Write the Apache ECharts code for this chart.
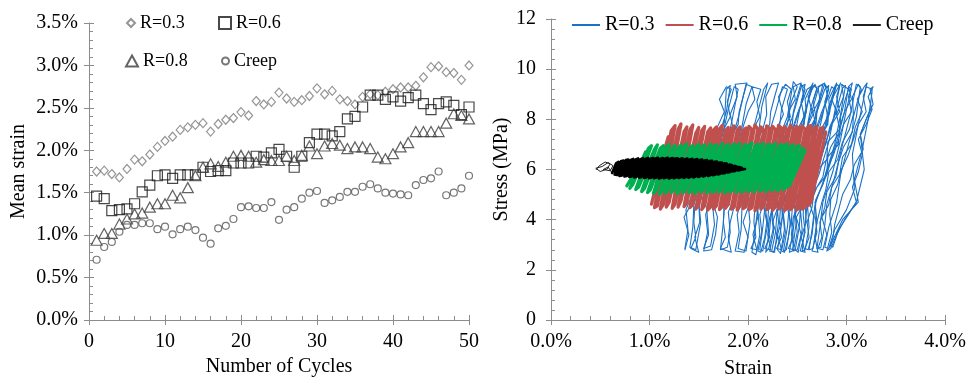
<!DOCTYPE html>
<html><head><meta charset="utf-8">
<script src="https://cdn.jsdelivr.net/npm/echarts@6/dist/echarts.min.js"></script>
<style>html,body{margin:0;padding:0;background:#fff}#c{width:967px;height:379px}</style>
</head><body><div id="c"></div>
<script>
// ---------- Left chart: mean strain (%) vs number of cycles ----------
const cycles = [1,2,3,4,5,6,7,8,9,10,11,12,13,14,15,16,17,18,19,20,21,22,23,24,25,26,27,28,29,30,31,32,33,34,35,36,37,38,39,40,41,42,43,44,45,46,47,48,49,50];
const meanR03 = [1.75,1.76,1.72,1.68,1.78,1.89,1.87,1.95,2.04,2.11,2.16,2.24,2.27,2.30,2.32,2.22,2.31,2.36,2.38,2.45,2.41,2.58,2.54,2.57,2.68,2.61,2.57,2.59,2.64,2.73,2.66,2.70,2.60,2.58,2.54,2.63,2.66,2.65,2.69,2.72,2.74,2.74,2.76,2.86,2.98,2.99,2.92,2.91,2.83,3.00];
const meanR06 = [1.46,1.43,1.29,1.30,1.31,1.37,1.51,1.59,1.70,1.71,1.67,1.71,1.71,1.71,1.80,1.75,1.76,1.76,1.85,1.85,1.85,1.93,1.92,1.97,2.01,1.93,1.80,1.93,2.09,2.19,2.19,2.17,2.22,2.37,2.40,2.51,2.65,2.65,2.60,2.63,2.58,2.62,2.65,2.55,2.48,2.55,2.57,2.53,2.42,2.51];
const meanR08 = [0.94,1.02,1.02,1.13,1.19,1.25,1.26,1.33,1.37,1.37,1.47,1.44,1.56,1.70,1.80,1.84,1.81,1.86,1.93,1.94,1.93,1.86,1.89,1.88,1.88,1.93,1.88,1.94,2.05,1.96,2.05,2.08,2.06,2.02,2.04,2.04,2.02,1.92,1.90,1.96,2.04,2.09,2.22,2.22,2.22,2.22,2.32,2.43,2.41,2.37];
const meanCreep = [0.71,0.86,0.92,1.04,1.12,1.12,1.14,1.14,1.07,1.10,1.01,1.07,1.10,1.06,0.97,0.90,1.08,1.11,1.19,1.33,1.34,1.32,1.32,1.39,1.18,1.30,1.33,1.43,1.50,1.52,1.38,1.41,1.45,1.51,1.51,1.57,1.60,1.55,1.50,1.49,1.48,1.47,1.59,1.65,1.67,1.75,1.47,1.50,1.55,1.70];

// ---------- Right chart: stress (MPa) vs strain (%) ----------
// R=0.3 traced paths [strain %, stress MPa]
const loopR03a = [
[1.36,2.85],[1.39,3.6],[1.37,4.4],[1.48,5.4],[1.62,6.6],[1.76,7.9],[1.78,9.2],
[1.82,9.35],[1.78,8.3],[1.68,7.0],[1.55,5.8],[1.45,4.6],[1.44,3.7],[1.41,2.9],
[1.47,2.8],[1.52,3.9],[1.50,4.7],[1.62,5.9],[1.72,7.0],[1.80,8.4],[1.86,9.3],
[1.90,9.2],[1.84,8.0],[1.78,6.9],[1.68,5.6],[1.58,4.5],[1.60,3.4],[1.55,2.85],
[1.62,2.95],[1.66,3.8],[1.64,4.6],[1.74,5.7],[1.83,7.1],[1.91,8.2],[1.98,9.4],
[2.04,9.3],[1.98,8.6],[1.92,7.3],[1.84,6.0],[1.76,4.8],[1.75,3.9],[1.72,2.8],
[1.79,2.9],[1.82,3.5],[1.80,4.3],[1.92,5.5],[2.00,6.8],[2.08,8.0],[2.16,9.2],
[2.20,9.45],[2.14,8.5],[2.10,7.2],[2.00,5.9],[1.94,4.6],[1.93,3.6],[1.90,2.85],
[1.98,2.75],[2.02,3.9],[2.00,4.7],[2.10,5.6],[2.18,7.0],[2.28,8.3],[2.35,9.3],
[2.40,9.2],[2.34,8.4],[2.30,7.0],[2.18,5.8],[2.10,4.5],[2.07,3.5],[2.04,2.7],
[2.08,2.6],[2.12,3.4],[2.10,4.4],[2.20,5.5],[2.28,6.9],[2.40,8.1],[2.46,9.5],
[2.50,9.3],[2.44,8.7],[2.38,7.4],[2.27,6.0],[2.18,4.8],[2.15,3.7],[2.12,2.8],
[2.15,2.75],[2.20,3.8],[2.17,4.6],[2.28,5.8],[2.36,7.1],[2.46,8.2],[2.54,9.3],
[2.58,9.4],[2.52,8.3],[2.46,7.0],[2.34,5.7],[2.24,4.5],[2.22,3.6],[2.18,2.7],
[2.21,2.85],[2.26,3.7],[2.24,4.7],[2.33,5.9],[2.43,7.2],[2.52,8.4],[2.60,9.2],
[2.64,9.3],[2.58,8.1],[2.52,7.0],[2.42,5.8],[2.30,4.6],[2.28,3.5],[2.24,2.75],
[2.27,2.7],[2.31,3.9],[2.29,4.8],[2.39,5.6],[2.48,7.0],[2.58,8.3],[2.66,9.35],
[2.70,9.25],[2.64,8.5],[2.58,7.3],[2.48,6.0],[2.36,4.7],[2.34,3.8],[2.30,2.8],
[2.33,2.65],[2.37,3.6],[2.35,4.5],[2.45,5.7],[2.54,6.9],[2.64,8.2],[2.72,9.3],
[2.76,9.4],[2.70,8.4],[2.64,7.1],[2.53,5.9],[2.42,4.6],[2.40,3.7],[2.36,2.75],
[2.39,2.8],[2.43,3.8],[2.41,4.7],[2.51,5.8],[2.60,7.0],[2.70,8.3],[2.78,9.2],
[2.82,9.35],[2.76,8.2],[2.70,7.2],[2.59,5.9],[2.48,4.5],[2.46,3.6],[2.42,2.7],
[2.45,2.75],[2.49,3.9],[2.47,4.6],[2.57,5.7],[2.66,7.1],[2.76,8.3],[2.85,9.3],
[2.88,9.2],[2.82,8.5],[2.76,7.3],[2.66,6.0],[2.54,4.8],[2.52,3.7],[2.48,2.8],
[2.51,2.7],[2.55,3.6],[2.53,4.5],[2.63,5.8],[2.72,7.0],[2.82,8.2],[2.90,9.4],
[2.93,9.3],[2.88,8.3],[2.82,7.1],[2.72,5.8],[2.60,4.6],[2.58,3.8],[2.55,2.75],
[2.58,2.8],[2.62,3.7],[2.60,4.8],[2.70,5.9],[2.80,7.2],[2.90,8.4],[2.96,9.25],
[2.99,9.35],[2.94,8.2],[2.88,7.0],[2.78,5.7],[2.68,4.6],[2.65,3.6],[2.62,2.8],
[2.66,2.85],[2.70,3.9],[2.68,4.7],[2.80,5.8],[2.90,7.1],[2.98,8.3],[3.02,9.3],
[3.05,9.2],[3.00,8.4],[2.94,7.2],[2.86,5.9],[2.76,4.7],[2.73,3.7],[2.70,2.85],
[2.74,2.9],[2.78,3.8],[2.80,4.6],[2.88,5.7],[2.96,7.0],[3.04,8.2],[3.10,9.4],
[3.14,9.3],[3.10,8.1],[3.02,7.0],[2.94,5.8],[2.90,4.7],[2.82,3.7],[2.78,2.9],
[2.82,2.85],[2.88,3.6],[3.00,4.4],[3.08,5.2],[3.06,6.6],[3.12,7.8],[3.20,9.3],
[3.26,9.2],[3.24,8.4],[3.14,7.4],[3.18,6.0],[3.10,4.7],[2.92,3.6],[2.86,2.9],
[2.84,3.0],[2.96,4.0],[3.12,4.7],[3.08,5.6],[3.16,6.8],[3.22,8.0],[3.26,9.1]
];
const loopR03b = [
[1.36,2.8],[1.40,3.4],[1.35,4.1],[1.42,4.6],[1.45,5.3],[1.53,5.8],[1.56,6.5],[1.65,7.0],[1.69,7.7],[1.76,8.3],[1.71,8.8],[1.78,9.3],
[1.83,9.2],[1.79,8.7],[1.82,8.1],[1.74,7.5],[1.69,6.9],[1.64,6.3],[1.57,5.7],[1.53,5.1],[1.46,4.5],[1.45,3.9],[1.47,3.3],[1.42,2.85],
[1.50,2.7],[1.46,3.3],[1.51,3.9],[1.50,4.7],[1.60,5.2],[1.61,5.9],[1.72,6.4],[1.73,7.1],[1.85,7.6],[1.82,8.2],[1.89,8.9],[1.87,9.4],
[1.99,9.45],[1.95,8.9],[1.91,8.3],[1.90,7.8],[1.81,7.2],[1.76,6.6],[1.73,6.0],[1.64,5.4],[1.62,4.8],[1.57,4.2],[1.59,3.5],[1.55,2.75],
[1.63,2.8],[1.67,3.4],[1.69,4.1],[1.65,4.6],[1.72,5.3],[1.82,5.8],[1.83,6.5],[1.94,7.0],[1.95,7.7],[2.00,8.3],[2.07,8.8],[2.04,9.3],
[2.13,9.2],[2.09,8.7],[2.12,8.1],[2.04,7.5],[1.99,6.9],[1.94,6.3],[1.87,5.7],[1.83,5.1],[1.76,4.5],[1.75,3.9],[1.77,3.3],[1.72,2.85],
[1.83,2.7],[1.80,3.3],[1.82,3.9],[1.87,4.7],[1.91,5.2],[1.94,5.9],[2.03,6.4],[2.08,7.1],[2.15,7.6],[2.19,8.2],[2.18,8.9],[2.24,9.4],
[2.31,9.45],[2.27,8.9],[2.23,8.3],[2.22,7.8],[2.13,7.2],[2.08,6.6],[2.05,6.0],[1.96,5.4],[1.94,4.8],[1.89,4.2],[1.91,3.5],[1.87,2.75],
[1.96,2.7],[2.00,3.3],[1.95,3.9],[2.02,4.7],[2.05,5.2],[2.13,5.9],[2.16,6.4],[2.25,7.1],[2.29,7.6],[2.36,8.2],[2.31,8.9],[2.38,9.4],
[2.44,9.2],[2.40,8.7],[2.43,8.1],[2.35,7.5],[2.30,6.9],[2.25,6.3],[2.18,5.7],[2.14,5.1],[2.07,4.5],[2.06,3.9],[2.08,3.3],[2.03,2.85],
[2.09,2.8],[2.05,3.4],[2.10,4.1],[2.09,4.6],[2.19,5.3],[2.20,5.8],[2.31,6.5],[2.32,7.0],[2.44,7.7],[2.41,8.3],[2.48,8.8],[2.46,9.3],
[2.54,9.45],[2.50,8.9],[2.46,8.3],[2.45,7.8],[2.36,7.2],[2.31,6.6],[2.28,6.0],[2.19,5.4],[2.17,4.8],[2.12,4.2],[2.14,3.5],[2.10,2.75],
[2.13,2.7],[2.17,3.3],[2.19,3.9],[2.15,4.7],[2.22,5.2],[2.32,5.9],[2.33,6.4],[2.44,7.1],[2.45,7.6],[2.50,8.2],[2.57,8.9],[2.54,9.4],
[2.58,9.2],[2.54,8.7],[2.57,8.1],[2.49,7.5],[2.44,6.9],[2.39,6.3],[2.32,5.7],[2.28,5.1],[2.21,4.5],[2.20,3.9],[2.22,3.3],[2.17,2.85],
[2.23,2.8],[2.20,3.4],[2.22,4.1],[2.27,4.6],[2.31,5.3],[2.34,5.8],[2.43,6.5],[2.48,7.0],[2.55,7.7],[2.59,8.3],[2.58,8.8],[2.64,9.3],
[2.66,9.45],[2.62,8.9],[2.58,8.3],[2.57,7.8],[2.48,7.2],[2.43,6.6],[2.40,6.0],[2.31,5.4],[2.29,4.8],[2.24,4.2],[2.26,3.5],[2.22,2.75],
[2.26,2.7],[2.30,3.3],[2.25,3.9],[2.32,4.7],[2.35,5.2],[2.43,5.9],[2.46,6.4],[2.55,7.1],[2.59,7.6],[2.66,8.2],[2.61,8.9],[2.68,9.4],
[2.70,9.2],[2.66,8.7],[2.69,8.1],[2.61,7.5],[2.56,6.9],[2.51,6.3],[2.44,5.7],[2.40,5.1],[2.33,4.5],[2.32,3.9],[2.34,3.3],[2.29,2.85],
[2.34,2.8],[2.30,3.4],[2.35,4.1],[2.34,4.6],[2.44,5.3],[2.45,5.8],[2.56,6.5],[2.57,7.0],[2.69,7.7],[2.66,8.3],[2.73,8.8],[2.71,9.3],
[2.78,9.45],[2.74,8.9],[2.70,8.3],[2.69,7.8],[2.60,7.2],[2.55,6.6],[2.52,6.0],[2.43,5.4],[2.41,4.8],[2.36,4.2],[2.38,3.5],[2.34,2.75],
[2.37,2.7],[2.41,3.3],[2.43,3.9],[2.39,4.7],[2.46,5.2],[2.56,5.9],[2.57,6.4],[2.68,7.1],[2.69,7.6],[2.74,8.2],[2.81,8.9],[2.78,9.4],
[2.82,9.2],[2.78,8.7],[2.81,8.1],[2.73,7.5],[2.68,6.9],[2.63,6.3],[2.56,5.7],[2.52,5.1],[2.45,4.5],[2.44,3.9],[2.46,3.3],[2.41,2.85],
[2.47,2.8],[2.44,3.4],[2.46,4.1],[2.51,4.6],[2.55,5.3],[2.58,5.8],[2.67,6.5],[2.72,7.0],[2.79,7.7],[2.83,8.3],[2.82,8.8],[2.88,9.3],
[2.90,9.45],[2.86,8.9],[2.82,8.3],[2.81,7.8],[2.72,7.2],[2.67,6.6],[2.64,6.0],[2.55,5.4],[2.53,4.8],[2.48,4.2],[2.50,3.5],[2.46,2.75],
[2.50,2.8],[2.54,3.4],[2.49,4.1],[2.56,4.6],[2.59,5.3],[2.67,5.8],[2.70,6.5],[2.79,7.0],[2.83,7.7],[2.90,8.3],[2.85,8.8],[2.92,9.3],
[2.94,9.45],[2.90,8.9],[2.93,8.3],[2.85,7.8],[2.80,7.2],[2.75,6.6],[2.68,6.0],[2.64,5.4],[2.57,4.8],[2.56,4.2],[2.58,3.5],[2.53,2.75],
[2.58,2.7],[2.54,3.3],[2.59,3.9],[2.58,4.7],[2.68,5.2],[2.69,5.9],[2.80,6.4],[2.81,7.1],[2.93,7.6],[2.90,8.2],[2.97,8.9],[2.95,9.4],
[3.02,9.2],[2.98,8.7],[2.94,8.1],[2.93,7.5],[2.84,6.9],[2.79,6.3],[2.76,5.7],[2.67,5.1],[2.65,4.5],[2.60,3.9],[2.62,3.3],[2.58,2.85],
[2.61,2.8],[2.65,3.4],[2.67,4.1],[2.63,4.6],[2.70,5.3],[2.80,5.8],[2.81,6.5],[2.92,7.0],[2.93,7.7],[2.98,8.3],[3.05,8.8],[3.02,9.3],
[3.06,9.45],[3.02,8.9],[3.05,8.3],[2.97,7.8],[2.92,7.2],[2.87,6.6],[2.80,6.0],[2.76,5.4],[2.69,4.8],[2.68,4.2],[2.70,3.5],[2.65,2.75],
[2.71,2.7],[2.68,3.3],[2.70,3.9],[2.75,4.7],[2.79,5.2],[2.82,5.9],[2.91,6.4],[2.96,7.1],[3.03,7.6],[3.07,8.2],[3.06,8.9],[3.12,9.4],
[3.15,9.2],[3.11,8.7],[3.07,8.1],[3.06,7.5],[2.97,6.9],[2.92,6.3],[2.89,5.7],[2.80,5.1],[2.78,4.5],[2.73,3.9],[2.75,3.3],[2.71,2.85],
[2.76,2.8],[2.80,3.4],[2.75,4.1],[2.82,4.6],[2.85,5.3],[2.93,5.8],[2.96,6.5],[3.05,7.0],[3.09,7.7],[3.16,8.3],[3.11,8.8],[3.18,9.3],
[3.21,9.45],[3.17,8.9],[3.20,8.3],[3.12,7.8],[3.07,7.2],[3.02,6.6],[2.95,6.0],[2.91,5.4],[2.84,4.8],[2.83,4.2],[2.85,3.5],[2.80,2.75],
[2.84,2.85],[2.90,3.4],[2.98,4.0],[3.10,4.7],[3.06,5.3],[3.12,5.9],[3.16,6.6],[3.12,7.2],[3.20,7.8],[3.26,8.4],[3.22,8.9],[3.27,9.3],
[3.24,9.2],[3.27,8.6],[3.20,8.0],[3.14,7.4],[3.17,6.8],[3.08,6.2],[3.04,5.6],[2.96,5.0],[2.92,4.4],[2.88,3.8],[2.86,3.2],[2.83,2.9]
];
// R=0.6 cycles: [strain at min, min stress, strain at max, max stress]
const cycR06 = [
[1.02,4.62,1.16,6.9],[1.05,4.48,1.19,7.3],[1.08,4.55,1.22,7.55],[1.11,4.42,1.26,7.75],[1.14,4.6,1.29,7.6],
[1.17,4.5,1.32,7.82],[1.20,4.7,1.35,7.5],[1.23,4.45,1.38,7.7],[1.26,4.62,1.41,7.58],[1.29,4.5,1.44,7.78],
[1.32,4.75,1.47,7.45],[1.35,4.52,1.50,7.68],[1.38,4.66,1.53,7.55],[1.41,4.48,1.56,7.72],[1.44,4.6,1.59,7.5],
[1.47,4.42,1.62,7.66],[1.50,4.58,1.65,7.58],[1.53,4.4,1.68,7.7],[1.56,4.55,1.71,7.62],[1.59,4.38,1.74,7.76],
[1.62,4.5,1.77,7.55],[1.65,4.42,1.80,7.68],[1.68,4.56,1.83,7.6],[1.71,4.4,1.86,7.74],[1.74,4.52,1.89,7.58],
[1.77,4.45,1.92,7.7],[1.80,4.6,1.95,7.55],[1.83,4.42,1.98,7.66],[1.86,4.5,2.01,7.72],[1.89,4.38,2.04,7.6],
[1.92,4.55,2.07,7.78],[1.95,4.44,2.10,7.62],[1.98,4.52,2.13,7.7],[2.01,4.4,2.16,7.56],[2.04,4.48,2.19,7.74],
[2.07,4.36,2.22,7.64],[2.10,4.5,2.25,7.72],[2.13,4.42,2.28,7.58],[2.16,4.55,2.31,7.76],[2.19,4.4,2.34,7.66],
[2.22,4.48,2.37,7.7],[2.25,4.38,2.40,7.6],[2.28,4.52,2.43,7.75],[2.31,4.42,2.46,7.62],[2.34,4.5,2.49,7.72],
[2.37,4.36,2.52,7.66],[2.40,4.46,2.55,7.74],[2.43,4.4,2.58,7.6],[2.46,4.52,2.61,7.7],[2.49,4.38,2.64,7.76],
[2.52,4.46,2.67,7.64],[2.55,4.42,2.70,7.72],[2.58,4.5,2.73,7.6],[2.61,4.56,2.76,7.68],[2.64,4.7,2.79,7.5]
];
// R=0.8 cycles
const cycR08 = [
[0.77,5.35,0.93,6.4],[0.80,5.25,0.96,6.7],[0.83,5.4,0.99,6.85],[0.86,5.2,1.02,6.95],[0.89,5.3,1.05,6.8],
[0.92,5.12,1.08,6.98],[0.95,5.25,1.11,6.85],[0.98,5.08,1.14,6.95],[1.01,5.2,1.17,6.88],[1.04,5.05,1.20,7.0],
[1.07,5.18,1.23,6.86],[1.10,5.02,1.26,6.96],[1.13,5.15,1.29,6.84],[1.16,5.05,1.32,6.98],[1.19,5.2,1.35,6.9],
[1.22,5.08,1.38,7.02],[1.25,5.18,1.41,6.86],[1.28,5.04,1.44,6.96],[1.31,5.16,1.47,6.88],[1.34,5.06,1.50,7.0],
[1.37,5.2,1.53,6.9],[1.40,5.08,1.56,6.98],[1.43,5.14,1.59,6.86],[1.46,5.04,1.62,7.02],[1.49,5.18,1.65,6.92],
[1.52,5.1,1.68,6.98],[1.55,5.2,1.71,6.88],[1.58,5.06,1.74,7.04],[1.61,5.16,1.77,6.92],[1.64,5.08,1.80,7.0],
[1.67,5.2,1.83,6.9],[1.70,5.1,1.86,7.02],[1.73,5.18,1.89,6.94],[1.76,5.06,1.92,7.04],[1.79,5.16,1.95,6.9],
[1.82,5.1,1.98,7.0],[1.85,5.2,2.01,6.94],[1.88,5.08,2.04,7.06],[1.91,5.18,2.07,6.92],[1.94,5.1,2.10,7.02],
[1.97,5.22,2.13,6.96],[2.00,5.12,2.16,7.05],[2.03,5.2,2.19,6.92],[2.06,5.1,2.22,7.0],[2.09,5.24,2.25,6.95],
[2.12,5.14,2.28,7.04],[2.15,5.22,2.31,6.9],[2.18,5.12,2.34,7.0],[2.21,5.26,2.37,6.94],[2.24,5.16,2.40,7.02],
[2.27,5.24,2.43,6.9],[2.30,5.14,2.46,6.98],[2.33,5.28,2.49,6.88],[2.36,5.2,2.52,6.96],[2.39,5.3,2.55,6.85],
[2.42,5.35,2.58,6.75]
];
// Creep: initial loading trace, then cycles
const creepStart = [[0.46,6.0],[0.49,6.15],[0.55,6.3],[0.60,6.22],[0.57,6.02],[0.50,5.92],[0.455,6.05],[0.52,6.12],[0.58,6.28],[0.63,6.15],[0.60,5.95],[0.53,6.0],[0.58,6.1],[0.62,5.86]];
const cycCreep = [
[0.62,5.86,0.66,6.24],[0.645,5.8,0.685,6.3],[0.67,5.78,0.71,6.33],[0.695,5.74,0.735,6.36],[0.72,5.76,0.76,6.38],
[0.745,5.72,0.785,6.4],[0.77,5.74,0.81,6.38],[0.795,5.7,0.835,6.42],[0.82,5.72,0.86,6.4],[0.845,5.68,0.885,6.44],
[0.87,5.71,0.91,6.41],[0.895,5.67,0.935,6.45],[0.92,5.7,0.96,6.42],[0.945,5.66,0.985,6.46],[0.97,5.69,1.01,6.43],
[0.995,5.65,1.035,6.46],[1.02,5.68,1.06,6.44],[1.045,5.65,1.085,6.47],[1.07,5.68,1.11,6.43],[1.095,5.64,1.135,6.46],
[1.12,5.67,1.16,6.44],[1.145,5.65,1.185,6.47],[1.17,5.68,1.21,6.43],[1.195,5.64,1.235,6.46],[1.22,5.67,1.26,6.44],
[1.245,5.65,1.285,6.45],[1.27,5.68,1.31,6.42],[1.295,5.66,1.335,6.45],[1.32,5.69,1.36,6.41],[1.345,5.66,1.385,6.44],
[1.37,5.7,1.41,6.4],[1.395,5.67,1.435,6.43],[1.42,5.71,1.46,6.39],[1.445,5.68,1.485,6.42],[1.47,5.72,1.51,6.38],
[1.495,5.7,1.535,6.4],[1.52,5.74,1.56,6.36],[1.545,5.72,1.585,6.38],[1.57,5.76,1.61,6.34],[1.595,5.74,1.635,6.35],
[1.62,5.78,1.66,6.31],[1.645,5.77,1.685,6.32],[1.67,5.8,1.71,6.28],[1.695,5.8,1.735,6.28],[1.72,5.83,1.76,6.25],
[1.745,5.84,1.785,6.24],[1.77,5.86,1.81,6.2],[1.795,5.88,1.835,6.18],[1.82,5.9,1.86,6.15],[1.845,5.92,1.885,6.12],
[1.87,5.94,1.91,6.1],[1.90,5.96,1.94,6.06]
];
const creepEnd = [[1.97,6.02]];

// ---------- build ----------
const FONT = 'Liberation Serif';
const AX = '#8c8c8c';
// each cycle row gives its min and max points; consecutive cycles are traced min->max, max->min
function cyclesToPath(rows){
  const out=[];
  rows.forEach((r,i)=>{
    if(i%2===0){ out.push([r[0],r[1]]); out.push([r[2],r[3]]); }
    else { out.push([r[2],r[3]]); out.push([r[0],r[1]]); }
  });
  return out;
}
function pairs(xs, ys){ return xs.map((x,i)=>[x, ys[i]]); }
const pct = v => v.toFixed(1) + '%';

function mainAxis(grid, o){
  return Object.assign({
    type:'value', gridIndex:grid,
    axisLine:{show:true, lineStyle:{color:AX, width:1}},
    axisTick:{show:true, inside:true, length:5, lineStyle:{color:AX}},
    minorTick:{show:true, splitNumber:5, length:4, lineStyle:{color:AX}},
    splitLine:{show:false}, minorSplitLine:{show:false},
    nameTextStyle:{color:'#000', fontFamily:FONT, fontSize:20},
    nameLocation:'middle'
  }, o);
}
function overlayAxis(grid, pos, o){
  return Object.assign({
    type:'value', gridIndex:grid, position:pos,
    axisLine:{show:false}, axisLabel:{show:false},
    axisTick:{show:true, inside:false, length:5, lineStyle:{color:AX}},
    splitLine:{show:false}
  }, o);
}
const lbl = (margin, fmt) => ({color:'#000', fontFamily:FONT, fontSize:20, margin, formatter:fmt});

const scatterBase = (name, data, symbol, size, color) => ({
  type:'scatter', name, data, symbol, symbolSize:size,
  xAxisIndex:0, yAxisIndex:0,
  itemStyle:{color:'rgba(255,255,255,0)', borderColor:color, borderWidth:1.2},
  emphasis:{disabled:true}
});
const lineBase = (name, data, color, w) => ({
  type:'line', name, data, showSymbol:false, symbol:'none',
  xAxisIndex:2, yAxisIndex:2,
  lineStyle:{color, width:w, join:'round', cap:'round'}, itemStyle:{color},
  emphasis:{disabled:true}
});

const legText = {color:'#000', fontFamily:FONT, fontSize:18};
const option = {
  animation:false,
  backgroundColor:'#fff',
  grid:[
    {left:89, top:23, width:380, height:297, containLabel:false, outerBoundsMode:'none'},
    {left:551, top:19, width:394, height:301, containLabel:false, outerBoundsMode:'none'}
  ],
  xAxis:[
    mainAxis(0,{min:0,max:50,interval:10, name:'Number of Cycles', nameGap:37, axisLabel:lbl(12)}),
    overlayAxis(0,'bottom',{min:0,max:50,interval:10}),
    mainAxis(1,{min:0,max:4,interval:1, name:'Strain', nameGap:39, axisLabel:lbl(12,pct)}),
    overlayAxis(1,'bottom',{min:0,max:4,interval:1})
  ],
  yAxis:[
    mainAxis(0,{min:0,max:3.5,interval:0.5, name:'Mean strain', nameGap:60, axisLabel:lbl(11,pct)}),
    overlayAxis(0,'left',{min:0,max:3.5,interval:0.5}),
    mainAxis(1,{min:0,max:12,interval:2, name:'Stress (MPa)', nameGap:38, axisLabel:lbl(15)}),
    overlayAxis(1,'left',{min:0,max:12,interval:2})
  ],
  legend:[
    {data:['R=0.3'], left:121, top:9, itemWidth:8, itemHeight:8, selectedMode:false, textStyle:legText},
    {data:['R=0.6'], left:213, top:9, itemWidth:12, itemHeight:12, selectedMode:false, textStyle:legText},
    {data:['R=0.8'], left:120, top:47, itemWidth:12, itemHeight:11, selectedMode:false, textStyle:legText},
    {data:['Creep'], left:216, top:47, itemWidth:7, itemHeight:7, selectedMode:false, textStyle:legText},
    {data:['R=0.3 ','R=0.6 ','R=0.8 ','Creep '], left:567, top:10, icon:'rect', itemWidth:28, itemHeight:2, itemGap:11,
     selectedMode:false, formatter:n=>n.trim(), textStyle:{color:'#000', fontFamily:FONT, fontSize:20}}
  ],
  series:[
    scatterBase('R=0.3', pairs(cycles, meanR03), 'diamond', [8,9], '#7a7a7a'),
    scatterBase('R=0.6', pairs(cycles, meanR06), 'rect', 10, '#1a1a1a'),
    scatterBase('R=0.8', pairs(cycles, meanR08), 'triangle', [11,10], '#3c3c3c'),
    scatterBase('Creep', pairs(cycles, meanCreep), 'circle', 7, '#555555'),
    lineBase('R=0.3 ', loopR03a, '#1a72c6', 1.1),
    lineBase('R=0.3 ', loopR03b, '#1a72c6', 1.1),
    lineBase('R=0.6 ', cyclesToPath(cycR06), '#c0504d', 3.2),
    lineBase('R=0.8 ', cyclesToPath(cycR08), '#00b050', 3.2),
    lineBase('Creep ', creepStart, '#222222', 1),
    lineBase('Creep ', cyclesToPath(cycCreep).concat(creepEnd), '#000000', 2.6)
  ]
};
const chart = echarts.init(document.getElementById('c'), null, {renderer:'canvas'});
chart.setOption(option);
</script></body></html>
